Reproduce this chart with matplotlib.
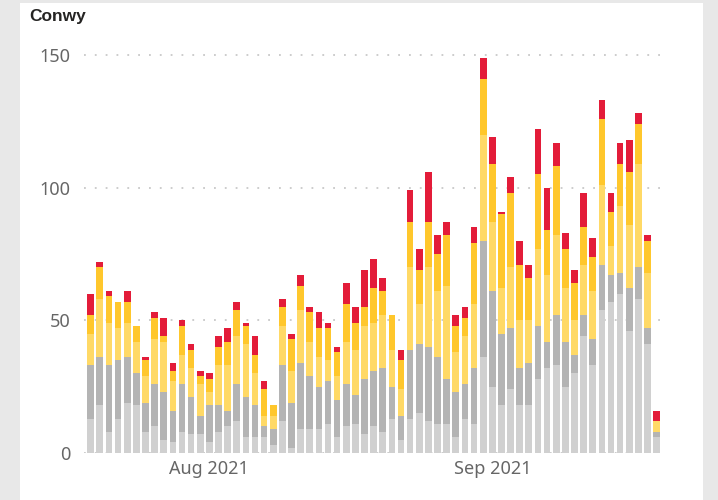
import matplotlib
matplotlib.use("Agg")
import matplotlib.pyplot as plt
import matplotlib.dates as mdates
from matplotlib.patches import Rectangle
import pandas as pd
import numpy as np

plt.rcParams['font.family'] = ['Noto Sans', 'DejaVu Sans']

# daily dates, 19 Jul 2021 - 19 Sep 2021
dates = pd.date_range("2021-07-19", "2021-09-19", freq="D")

# stacked segments, bottom to top
light_grey = [13, 18, 8, 13, 19, 18, 8, 10, 5, 4, 8, 7, 7, 4, 8, 10, 12, 6, 6, 6, 3,
              12, 2, 9, 9, 9, 11, 6, 10, 11, 7, 10, 8, 13, 5, 13, 15, 12, 11, 11, 6,
              13, 11, 36, 25, 18, 24, 18, 18, 28, 32, 33, 25, 30, 44, 33, 54, 57, 60,
              46, 58, 41, 6]
grey = [20, 18, 25, 22, 17, 12, 11, 16, 18, 12, 18, 14, 7, 14, 10, 6, 14, 15, 12, 4, 6,
        21, 17, 25, 20, 16, 16, 14, 16, 11, 21, 21, 24, 12, 9, 26, 26, 28, 25, 17, 17,
        13, 21, 44, 36, 27, 23, 14, 16, 20, 10, 19, 17, 7, 8, 10, 17, 10, 8,
        16, 12, 6, 2]
light_yellow = [12, 22, 16, 12, 13, 12, 10, 17, 19, 11, 11, 11, 12, 5, 15, 17, 18, 20, 12, 4, 5,
                15, 12, 20, 13, 11, 8, 9, 16, 17, 20, 18, 20, 14, 10, 31, 15, 30, 25, 35, 15,
                18, 24, 40, 26, 17, 23, 18, 16, 29, 25, 30, 20, 13, 19, 18, 30, 11, 25,
                24, 39, 21, 4]
gold = [7, 12, 10, 10, 8, 6, 6, 8, 2, 4, 11, 7, 3, 5, 7, 9, 10, 7, 7, 10, 4,
        7, 12, 9, 11, 11, 12, 9, 14, 10, 7, 13, 9, 13, 11, 17, 13, 17, 14, 19, 10,
        7, 23, 21, 22, 28, 28, 21, 16, 28, 17, 26, 15, 14, 14, 13, 25, 13, 16,
        20, 15, 12, 0]
red = [8, 2, 2, 0, 4, 0, 1, 2, 7, 3, 2, 2, 2, 2, 4, 5, 3, 1, 7, 3, 0,
       3, 2, 4, 2, 6, 2, 2, 8, 6, 14, 11, 5, 0, 4, 12, 8, 19, 7, 5, 4,
       4, 6, 8, 10, 1, 6, 9, 5, 17, 16, 9, 6, 5, 13, 7, 7, 7, 8,
       12, 4, 2, 4]

series = [light_grey, grey, light_yellow, gold, red]
colors = ["#d0d0d0", "#b4b4b4", "#ffd966", "#ffc72c", "#e31c39"]

fig = plt.figure(figsize=(7.18, 5), dpi=100)
fig.patch.set_facecolor("#e8e8e8")
fig.patches.append(Rectangle((20 / 718, 0), 683 / 718, 497 / 500,
                             transform=fig.transFigure, facecolor="white",
                             edgecolor="none", zorder=-1))

ax = fig.add_axes([0.1174, 0.094, 0.806, 0.8066])
ax.set_zorder(1)
ax.set_facecolor("none")

bottom = np.zeros(len(dates))
for vals, col in zip(series, colors):
    ax.bar(dates, vals, bottom=bottom, width=0.73, color=col, zorder=2)
    bottom += np.array(vals)

ax.set_ylim(0, 152)
ax.set_xlim(dates[0] - pd.Timedelta(days=0.7), dates[-1] + pd.Timedelta(days=0.7))
ax.set_yticks([0, 50, 100, 150])
ax.set_xticks([pd.Timestamp("2021-08-01"), pd.Timestamp("2021-09-01")])
ax.xaxis.set_major_formatter(mdates.DateFormatter("%b %Y"))

ax.tick_params(axis="both", length=0, labelsize=13, labelcolor="#666666")
ax.tick_params(axis="y", pad=10)
ax.tick_params(axis="x", pad=5)
ax.grid(axis="y", color="#c8c8c8", linestyle=(0, (1, 5)), linewidth=1.3, zorder=1)
ax.grid(axis="x", visible=False)
for s in ax.spines.values():
    s.set_visible(False)

fig.text(29 / 718, 1 - 17 / 500, "Conwy", fontsize=12.5, fontweight="bold",
         family="Liberation Sans", color="#252423", va="center", ha="left")

fig.savefig("out.png", dpi=100, facecolor=fig.get_facecolor())
